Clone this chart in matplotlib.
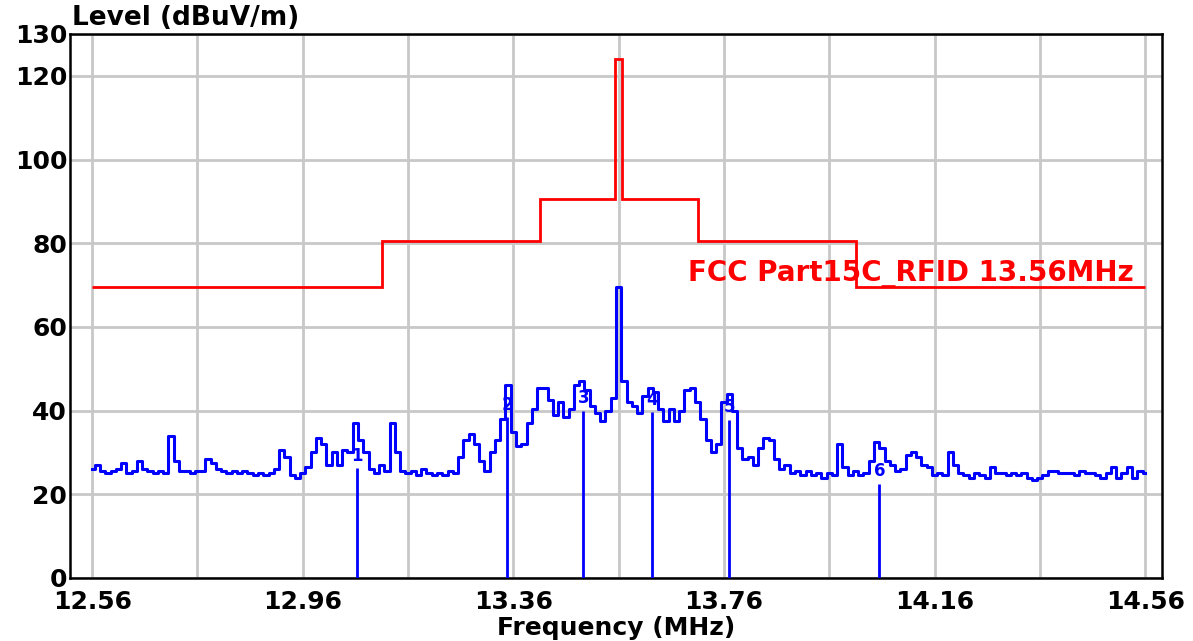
import numpy as np
import matplotlib
matplotlib.use('Agg')
import matplotlib.pyplot as plt

# measured trace, 0.01 MHz steps from 12.56 MHz
freq_start = 12.56
freq_step = 0.01
level = [
    26, 27, 25.5, 25, 25.5, 26, 27.5, 25, 25.5, 28,
    26, 25.5, 25, 25.5, 25, 34, 28, 25.5, 25.5, 25,
    25.5, 25.5, 28.5, 27.5, 26, 25.5, 25, 25.5, 25, 25.5,
    25, 24.5, 25, 24.5, 25, 26, 30.5, 29, 24.5, 24,
    25, 26.5, 30, 33.5, 32, 27, 30, 27, 30.5, 30,
    37, 33, 30, 26, 25, 27, 25.5, 37, 30, 25.5,
    25, 25.5, 24.5, 26, 25, 24.5, 25, 24.5, 25.5, 25,
    29, 33, 34.5, 32, 28, 25.5, 30, 33, 38, 46,
    35, 31.5, 32, 37, 40.5, 45.5, 45.5, 42.5, 39, 42,
    38.5, 40.5, 46, 47, 45, 41, 39.5, 37.5, 40, 43,
    69.5, 47, 42, 41, 39.5, 43.5, 45.5, 44.5, 40.5, 37.5,
    40.5, 37.5, 40, 45, 45.5, 42, 38, 33, 30, 32,
    42, 44, 40, 31, 28.5, 29, 27, 31, 33.5, 33,
    28.5, 26, 27, 25, 25.5, 24.5, 25.5, 24.5, 25, 24,
    25, 24.5, 32, 26.5, 24.5, 25.5, 24.5, 25, 28, 32.5,
    31, 28, 27, 25.5, 26, 29.5, 30, 29, 27, 26.5,
    24.5, 25, 24.5, 30, 27, 25, 24.5, 24, 25, 24.5,
    24, 26.5, 25, 25, 24.5, 25, 24.5, 25, 24, 23.5,
    24, 24.5, 25.5, 25.5, 25, 25, 25, 24.5, 25.5, 25,
    25, 24.5, 24, 25, 26.5, 24, 25, 26.5, 24, 25.5,
    25,
]

# FCC 15.225 limit mask
limit_edges = [12.56, 13.11, 13.41, 13.553, 13.567, 13.71, 14.01, 14.56]
limit_levels = [69.5, 80.5, 90.5, 124.0, 90.5, 80.5, 69.5]
limit_name = 'FCC Part15C_RFID 13.56MHz'

# markers
marker_freq = [13.063, 13.348, 13.493, 13.624, 13.770, 14.055]
marker_top = [26.3, 38.5, 40.0, 39.7, 37.8, 22.5]
marker_names = ['1', '2', '3', '4', '5', '6']

x_labels = [12.56, 12.96, 13.36, 13.76, 14.16, 14.56]
x_grid = [12.76, 13.16, 13.56, 13.96, 14.36]
y_ticks = [0, 20, 40, 60, 80, 100, 120, 130]

freq = freq_start + freq_step * np.arange(len(level))

fig = plt.figure(figsize=(11.93, 6.41), dpi=100)
ax = fig.add_axes([0.0587, 0.0983, 0.9153, 0.8487])

ax.plot(freq, level, color='#0000ff', lw=2.2, drawstyle='steps-mid', zorder=3)
ax.stairs(limit_levels, limit_edges, color='#ff0000', lw=2, baseline=None, zorder=3)
ax.vlines(marker_freq, 0, marker_top, color='#0000ff', lw=2, zorder=3)
for f, t, n in zip(marker_freq, marker_top, marker_names):
    ax.text(f, t + 0.8, n, color='#0000ff', fontsize=12, fontweight='bold',
            ha='center', va='bottom', zorder=4)

ax.text(14.539, 72.6, limit_name, color='#ff0000', fontsize=20, fontweight='bold',
        ha='right', va='center', zorder=4)

ax.set_xlim(12.518, 14.592)
ax.set_ylim(0, 130)
ax.set_xticks(x_labels)
ax.set_xticklabels(['%.2f' % v for v in x_labels])
ax.set_xticks(x_grid, minor=True)
ax.set_yticks(y_ticks)
ax.grid(True, which='both', color='#c8c8c8', lw=2, zorder=0)
ax.set_axisbelow(True)

ax.tick_params(axis='both', which='both', length=0)
ax.tick_params(axis='x', pad=9, labelsize=18)
ax.tick_params(axis='y', pad=2, labelsize=18)
for lab in ax.get_xticklabels() + ax.get_yticklabels():
    lab.set_fontweight('bold')

ax.set_xlabel('Frequency (MHz)', fontsize=18, fontweight='bold', labelpad=1)
fig.text(0.0604, 0.951, 'Level (dBuV/m)', fontsize=19, fontweight='bold',
         ha='left', va='bottom')

for s in ax.spines.values():
    s.set_linewidth(1.8)
    s.set_color('black')

fig.savefig('out.png', dpi=100)
